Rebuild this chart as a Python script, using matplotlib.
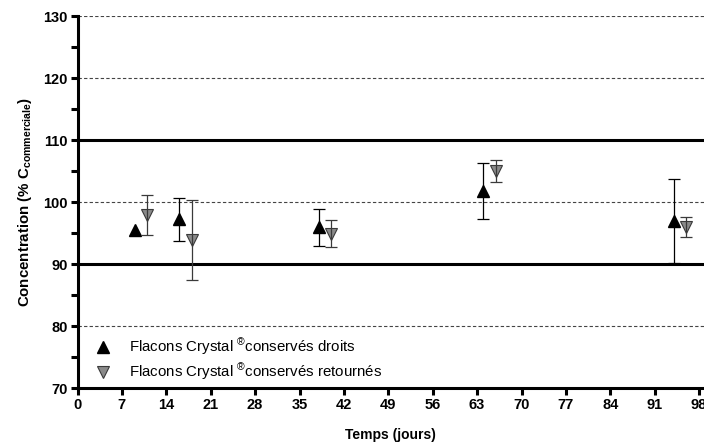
import matplotlib
matplotlib.use('Agg')
import matplotlib.pyplot as plt
from matplotlib.ticker import MultipleLocator

plt.rcParams['font.family'] = ['Liberation Sans', 'DejaVu Sans']
plt.rcParams['mathtext.fontset'] = 'custom'
plt.rcParams['mathtext.rm'] = 'Liberation Sans'
plt.rcParams['mathtext.bf'] = 'Liberation Sans:bold'
plt.rcParams['mathtext.it'] = 'Liberation Sans:italic'

# flacons conserves droits
days_up = [9, 16, 38, 64, 94]
conc_up = [95.5, 97.2, 95.9, 101.8, 96.9]
err_up = [0.0, 3.5, 3.0, 4.5, 6.8]

# flacons conserves retournes
days_down = [11, 18, 40, 66, 96]
conc_down = [97.9, 93.9, 94.9, 105.0, 96.0]
err_down = [3.3, 6.5, 2.2, 1.8, 1.6]

dashed_levels = [80, 100, 120, 130]
limit_levels = [90, 110]
x_ticks = list(range(0, 99, 7))

label_up = 'Flacons Crystal $^{®}$conservés droits'
label_down = 'Flacons Crystal $^{®}$conservés retournés'

fig = plt.figure(figsize=(7.04, 4.45), dpi=100)
ax = fig.add_axes([77.5 / 704, 57 / 445, (704 - 77.5) / 704, 372 / 445])

for lvl in dashed_levels:
    ax.axhline(lvl, color='#444444', lw=0.8, ls=(0, (3, 2)), zorder=1)
for lvl in limit_levels:
    ax.axhline(lvl, color='black', lw=2.2, zorder=2)

ax.plot(days_up, conc_up, ls='none', marker='^', ms=8.5, color='black',
        mec='black', label=label_up, zorder=3)
ax.plot(days_down, conc_down, ls='none', marker='v', ms=9, color='#8a8a8a',
        mec='#3a3a3a', mew=0.8, label=label_down, zorder=3)

# points whose error is hidden by the marker get no bar
up_idx = [i for i, e in enumerate(err_up) if e > 0]
ax.errorbar([days_up[i] for i in up_idx], [conc_up[i] for i in up_idx],
            yerr=[err_up[i] for i in up_idx], fmt='none', ecolor='black',
            elinewidth=0.9, capsize=4.3, capthick=0.9, zorder=4)
ax.errorbar(days_down, conc_down, yerr=err_down, fmt='none', ecolor='#3a3a3a',
            elinewidth=0.9, capsize=4.3, capthick=0.9, zorder=4)

ax.set_xlim(0, (704 - 77.5) / 6.343)
ax.set_ylim(70, 130)
ax.set_xticks(x_ticks)
ax.yaxis.set_major_locator(MultipleLocator(10))
ax.yaxis.set_minor_locator(MultipleLocator(5))

for side in ['top', 'right']:
    ax.spines[side].set_visible(False)
for side in ['left', 'bottom']:
    ax.spines[side].set_linewidth(2.2)

ax.tick_params(axis='both', which='both', direction='out', width=2.2,
               length=5, labelsize=10.5)
ax.tick_params(axis='y', pad=2)
ax.tick_params(axis='x', pad=2)
for lab in ax.get_xticklabels() + ax.get_yticklabels():
    lab.set_fontweight('bold')

ax.set_xlabel('Temps (jours)', fontsize=10, fontweight='bold', labelpad=12)
ax.set_ylabel(r'Concentration (% C$_{\mathbf{commerciale}}$)', fontsize=10.8,
              fontweight='bold', labelpad=7)

ax.legend(loc='lower left', bbox_to_anchor=(0.005, -0.005), frameon=False,
          fontsize=10.8, handletextpad=0.75, borderaxespad=0.1,
          labelspacing=0.3)

fig.savefig('out.png', dpi=100)
